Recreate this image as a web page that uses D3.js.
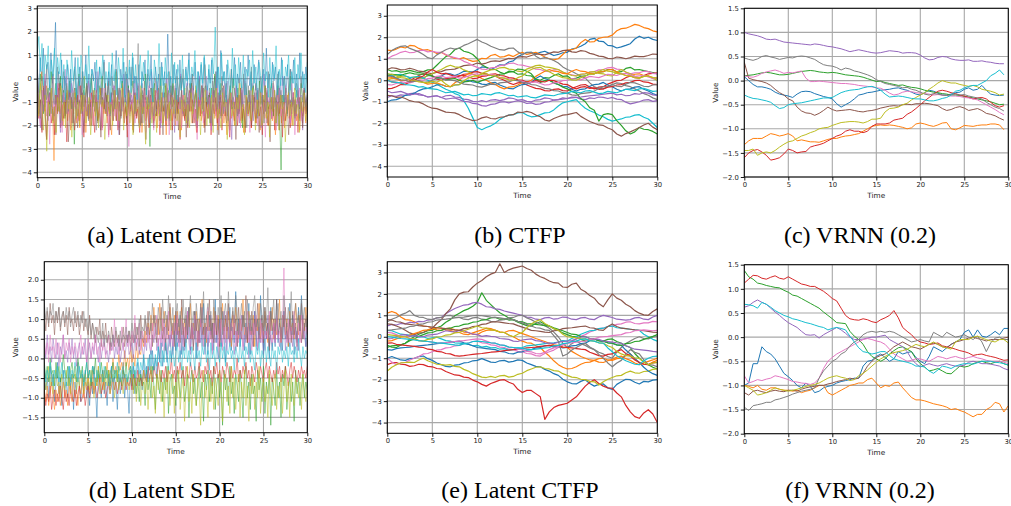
<!DOCTYPE html>
<html><head><meta charset="utf-8">
<script src="https://cdn.jsdelivr.net/npm/d3@7"></script>
<style>html,body{margin:0;padding:0;background:#fff;}svg{display:block;}</style>
</head><body>
<svg id="chart" width="1011" height="506"></svg>
<script>
// ---------- tick labels / categories ----------
const timeTicks = [0, 5, 10, 15, 20, 25, 30];
const intTicks = [-4, -3, -2, -1, 0, 1, 2, 3];
const vrnnTicks = [-2.0, -1.5, -1.0, -0.5, 0.0, 0.5, 1.0, 1.5];
const sdeTicks = [-1.5, -1.0, -0.5, 0.0, 0.5, 1.0, 1.5, 2.0];
const captions = ["(a) Latent ODE", "(b) CTFP", "(c) VRNN (0.2)", "(d) Latent SDE", "(e) Latent CTFP", "(f) VRNN (0.2)"];
const colors = ["#1f77b4", "#ff7f0e", "#2ca02c", "#d62728", "#9467bd", "#8c564b", "#e377c2", "#7f7f7f", "#bcbd22", "#17becf"];

// ---------- (a) Latent ODE: noisy samples over 0..30 ----------
const a_blue = [0.4,-0.6,0.9,-0.1,1.3,-0.9,0.2,0.7,-0.4,1.1,-0.2,0.6,2.4,-0.8,0.3,-0.5,0.8,-1.1,0.1,-0.3,0.6,-0.9,0.4,-0.6,0.0,0.9,-1.0,-0.2,0.5,-0.7,0.3,-0.4,1.0,-0.8,0.2,-1.2,0.4,-0.1,0.7,-0.6,-0.2,0.5,-0.9,0.1,0.8,-0.5,-1.1,0.3,-0.3,0.6,-0.7,0.0,1.2,-0.4,-0.9,0.4,-0.2,0.7,-1.0,0.2,-0.6,0.5,-0.3,0.9,-0.8,0.1,-0.5,0.6,-1.2,0.3,-0.1,0.8,-0.7,0.4,-0.4,1.0,-0.9,-0.2,0.5,-0.6,0.2,-1.0,0.7,-0.3,0.3,-0.8,1.9,-0.5,0.1,-0.9,0.6,-0.2,0.4,-1.1,0.8,-0.4,0.0,-0.7,0.5,-0.3,1.1,-0.8,0.2,-0.5,0.7,-1.0,0.3,-0.1,0.6,-0.6,0.9,-0.4,-1.2,0.4,-0.2,0.8,-0.7,0.1,-0.5,0.5,-0.9,1.2,-0.3,0.3,-0.8,0.6,-0.1,-1.0,0.4,-0.4,0.9,-0.6,0.2,-0.2,0.7,-1.1,0.0,0.5,-0.7,1.0,-0.3,0.3,-0.9,0.6,-0.5,0.1,0.8,-0.8,-0.2,0.4,-0.6,1.3,-0.4,0.2,-1.0,0.7,-0.1,0.5,-0.7,0.3,-0.9,0.9,-0.3,0.1,-0.6,0.6,-1.1,0.4,-0.2,0.8,-0.5,0.2,-0.8,1.1,-0.4,0.3,-0.7,0.5,-0.2];
const a_orange = [-0.2,-1.1,-0.5,0.3,-0.9,-1.4,-0.3,-0.8,-1.6,-0.6,-1.2,-3.5,-0.7,-1.0,-0.4,-1.5,-0.9,-2.0,-1.2,-0.7,-1.8,-1.1,-2.2,-0.9,-1.5,-0.6,-1.9,-1.3,-2.1,-1.0,-1.6,-0.8,-2.3,-1.2,-1.7,-0.9,-1.4,-2.0,-1.1,-0.7,-1.8,-1.3,-2.2,-1.0,-1.5,-0.6,-1.9,-1.2,-1.6,-2.4,-0.9,-1.3,-1.8,-1.0,-2.1,-1.4,-0.8,-1.7,-1.2,-2.0,-0.9,-1.5,-1.1,-2.2,-0.7,-1.6,-1.3,-1.9,-1.0,-2.3,-1.4,-0.8,-1.7,-1.1,-2.0,-1.3,-0.6,-1.8,-1.5,-2.1,-1.0,-1.4,-0.9,-1.9,-1.2,-2.4,-1.1,-1.6,-0.7,-1.8,-1.3,-2.0,-1.0,-1.5,-0.8,-2.2,-1.2,-1.7,-1.0,-2.0,-1.4,-0.7,-1.9,-1.1,-1.6,-2.3,-1.2,-0.9,-1.8,-1.4,-2.1,-0.8,-1.5,-1.1,-2.0,-1.3,-0.6,-1.7,-1.2,-2.2,-1.0,-1.6,-0.9,-1.9,-1.4,-2.4,-1.1,-0.8,-1.7,-1.3,-2.0,-1.0,-1.5,-0.7,-1.8,-1.2,-2.3,-1.4,-0.9,-1.6,-1.1,-2.1,-1.3,-0.8,-1.9,-1.0,-1.5,-2.2,-1.2,-0.7,-1.7,-1.4,-2.0,-1.1,-0.9,-1.8,-1.3,-2.4,-1.0,-1.6,-0.8,-1.9,-1.2,-2.1,-1.4,-0.7,-1.7,-1.1,-2.0,-1.3,-0.9,-1.8,-1.5,-2.2,-1.0,-1.6,-1.2,-1.9,-0.8];
const a_green = [-0.3,-1.2,0.2,-0.8,-1.5,-0.1,-0.9,-0.4,-1.6,0.3,-0.7,-1.1,-0.2,-1.4,-0.6,0.1,-1.0,-0.5,-1.7,-0.3,-0.9,-0.1,-1.3,-0.6,-2.8,-0.4,-1.1,0.2,-0.8,-1.5,-0.5,-1.0,-0.2,-1.6,-0.7,0.0,-1.2,-0.4,-0.9,-1.8,-0.3,-0.7,0.1,-1.3,-0.6,-1.0,-0.2,-1.5,-0.8,-0.4,-1.1,0.3,-0.9,-1.4,-0.5,-0.1,-1.2,-0.7,-1.7,-0.3,-1.0,-0.6,-0.1,-1.5,-0.8,-0.4,-1.1,-2.0,-0.5,-0.9,0.2,-1.3,-0.7,-2.9,-0.4,-1.0,-0.2,-1.6,-0.6,-1.2,0.0,-0.8,-1.4,-0.3,-1.0,-0.5,-1.8,-0.7,-0.2,-1.1,-0.6,-1.5,-0.4,0.1,-1.2,-0.9,-1.6,-0.3,-0.7,-1.0,-0.2,-1.4,-0.8,-0.5,-1.7,-0.1,-0.9,-1.3,-0.6,-0.3,-1.1,-0.7,-1.9,-0.4,-1.0,0.2,-1.2,-0.6,-1.5,-0.2,-0.9,-1.1,-0.5,-1.6,-0.8,-0.3,-1.3,0.0,-0.7,-1.0,-0.4,-1.4,-0.6,-2.1,-0.9,-0.2,-1.2,-0.5,-1.7,-0.8,-0.3,-1.0,-0.6,-1.5,-0.1,-1.1,-0.7,-1.9,-0.4,-0.9,-1.3,-0.5,-0.2,-1.6,-0.8,-1.0,-0.3,-1.4,-3.9,-0.7,-1.1,-0.4,-1.5,-0.6,0.1,-1.2,-0.9,-1.7,-0.5,-0.8,-1.3,-0.2,-1.0,-0.6,-1.4,-0.7];
const a_red = [-0.5,-1.7,-0.9,-2.3,-0.4,-1.4,-2.6,-1.0,-0.6,-1.9,-1.2,-2.4,-0.7,-1.5,-0.2,-2.1,-1.1,-1.7,-0.8,-2.7,-1.3,-0.5,-1.9,-1.0,-2.2,-1.4,-0.7,-1.8,-0.3,-1.2,-2.5,-0.9,-1.6,-1.1,-2.0,-0.6,-1.4,-2.3,-0.8,-1.7,-1.2,-0.4,-2.1,-1.0,-1.5,-0.7,-2.4,-1.3,-0.9,-1.8,-0.5,-1.2,-2.2,-1.0,-1.6,-0.3,-1.9,-1.1,-2.5,-0.8,-1.4,-1.0,-2.0,-0.6,-1.7,-1.2,-2.3,-0.9,-1.5,-0.4,-1.8,-1.1,-2.1,-0.7,-1.3,-1.9,-0.5,-1.6,-1.0,-2.4,-0.8,-1.4,-1.1,-2.0,-0.6,-1.7,-1.3,-2.2,-0.9,-0.4,-1.5,-1.0,-2.6,-1.2,-0.7,-1.8,-1.1,-2.1,-0.5,-1.4,-0.9,-1.9,-1.3,-2.3,-0.8,-1.6,-0.3,-1.2,-2.0,-1.0,-1.7,-0.6,-2.4,-1.1,-1.5,-0.8,-1.9,-1.3,-0.5,-2.2,-1.0,-1.6,-0.7,-1.4,-2.5,-0.9,-1.2,-1.8,-0.6,-2.0,-1.3,-0.4,-1.7,-1.1,-2.3,-0.8,-1.5,-1.0,-2.1,-0.7,-1.3,-1.9,-0.5,-1.6,-1.2,-2.4,-0.9,-1.4,-0.6,-2.0,-1.1,-1.7,-0.8,-2.2,-1.3,-0.4,-1.5,-1.0,-2.5,-0.7,-1.8,-1.2,-0.9,-2.1,-1.4,-0.6,-1.6,-1.1,-2.3,-0.8,-1.3,-1.9,-0.5,-1.5,-1.0];
const a_purple = [0.3,-1.0,-2.1,-0.5,-1.4,0.0,-0.9,-1.8,-0.6,-1.2,0.2,-1.6,-0.8,-0.3,-1.3,-2.3,-0.7,-1.0,0.4,-1.5,-0.5,-1.1,-0.2,-1.9,-0.8,-1.3,-0.4,0.1,-1.2,-0.9,-2.0,-0.6,-1.4,-0.1,-1.0,-1.7,-0.5,-0.9,0.3,-1.3,-0.7,-2.2,-0.4,-1.1,-0.8,-1.5,0.0,-1.0,-0.6,-1.8,-0.3,-1.2,-0.9,-2.4,-0.5,-1.4,0.2,-0.8,-1.1,-0.4,-1.6,-0.7,-1.0,0.1,-1.3,-0.6,-2.0,-0.9,-0.2,-1.5,-0.8,-1.1,-0.5,-1.9,0.3,-1.0,-0.7,-1.4,-0.3,-1.2,-2.1,-0.6,-0.9,-1.6,0.0,-1.1,-0.5,-1.3,-0.8,-2.3,-0.4,-1.0,-0.7,0.2,-1.5,-0.9,-1.2,-0.2,-1.8,-0.6,-1.0,-0.4,-1.4,-2.0,-0.7,0.1,-1.1,-0.5,-1.6,-0.9,-0.3,-1.3,-0.8,-2.2,-0.6,-1.0,0.3,-1.2,-0.7,-1.7,-0.4,-0.9,-1.4,-0.1,-1.1,-0.6,-2.6,-0.8,-1.3,-0.3,-1.0,-1.9,-0.5,-1.2,0.0,-0.9,-1.5,-0.7,-1.1,-0.2,-1.8,-0.6,-1.3,-0.4,-1.0,-2.1,-0.8,0.2,-1.4,-0.5,-1.1,-0.9,-1.7,-0.3,-1.2,-0.7,-2.0,-0.4,-1.0,0.1,-1.5,-0.8,-1.3,-0.6,-1.9,-0.2,-1.1,-0.9,-1.6,-0.5,-1.2,-0.7,-2.2,-0.4,-1.0,-0.8];
const a_brown = [-0.4,-1.5,-0.9,-2.2,-0.3,-1.3,-2.6,-0.8,-1.1,-0.5,-1.8,-1.2,-2.4,-0.7,-1.4,-0.2,-2.0,-1.0,-1.6,-0.6,-2.7,-1.3,-0.8,-1.9,-0.4,-1.2,-2.1,-0.9,-1.5,-0.6,-2.3,-1.1,-0.3,-1.7,-1.0,-2.0,-0.7,-1.4,-0.5,-1.9,-1.2,-2.5,-0.8,-1.3,-0.2,-1.6,-1.0,-2.2,-0.6,-1.4,-0.9,-1.8,-0.4,-2.4,-1.1,-0.7,-1.5,-1.2,-2.0,-0.5,-1.3,-0.9,-2.3,-0.8,-1.6,-0.3,-1.1,-1.9,-0.7,-1.4,-2.6,-1.0,-0.5,-1.7,-1.2,-2.1,-0.8,-1.3,-0.4,-1.8,-1.0,-2.4,-0.6,-1.5,-1.1,-2.0,-0.3,-1.2,-0.9,-1.7,-0.7,-2.2,-1.3,-0.5,-1.6,-1.0,-2.5,-0.8,-1.4,-0.2,-1.9,-1.1,-0.6,-2.1,-1.2,-0.9,-1.5,-0.4,-2.3,-1.0,-1.7,-0.7,-1.3,-2.0,-0.5,-1.4,-1.1,-2.4,-0.8,-1.6,-0.3,-1.2,-1.9,-0.9,-2.2,-0.6,-1.3,-1.0,-2.6,-0.7,-1.5,-0.4,-1.8,-1.2,-2.1,-0.9,-1.4,-0.5,-2.0,-1.1,-0.8,-1.7,-1.3,-2.3,-0.6,-1.0,-1.5,-0.3,-1.9,-1.2,-2.7,-0.8,-1.4,-0.5,-1.6,-1.0,-2.2,-0.7,-1.3,-1.8,-0.4,-1.1,-2.4,-0.9,-1.5,-0.6,-2.0,-1.2,-0.8,-1.7,-1.0,-2.1,-0.5,-1.4,-1.1];
const a_pink = [-0.2,-1.4,-2.0,-0.5,-1.1,0.2,-1.6,-0.7,-2.8,-0.4,-1.3,-0.9,-1.9,-0.2,-1.2,-1.0,-2.3,-0.6,-1.0,0.1,-1.5,-0.8,-2.1,-0.5,-1.2,-0.9,-1.8,-0.3,-1.1,-2.4,-0.6,-1.4,-0.8,-1.7,-0.2,-1.3,-2.0,-0.7,-1.0,0.3,-1.5,-0.9,-2.2,-0.4,-1.2,-1.0,-2.5,-0.6,-1.1,-0.3,-1.6,-0.8,-2.0,-0.5,-1.3,-0.7,-1.8,0.0,-1.0,-2.9,-0.6,-1.4,-0.4,-1.9,-1.1,-0.2,-2.1,-0.9,-1.2,-0.5,-2.3,-1.0,-0.3,-1.7,-0.8,-2.2,-1.3,-0.1,-1.5,-0.9,-1.9,-0.6,-1.1,-1.6,-0.4,-2.4,-1.0,-0.7,-1.4,-0.2,-2.0,-1.2,-0.8,-2.1,-0.5,-1.3,-1.0,-1.8,-0.6,-1.2,-0.3,-1.7,-0.9,-2.6,-0.4,-1.1,-0.7,-1.9,-1.3,0.1,-1.5,-0.8,-2.2,-0.5,-1.0,-1.6,-0.3,-2.0,-1.1,-0.7,-1.4,-0.2,-1.8,-0.9,-2.4,-0.6,-1.2,-1.0,-0.4,-1.7,-0.8,-2.1,-0.5,-1.3,-0.1,-1.6,-1.1,-2.3,-0.7,-0.9,-1.5,-0.3,-2.0,-1.2,-0.6,-1.8,-1.0,-2.5,-0.4,-1.1,-0.8,-1.7,-0.2,-1.4,-2.2,-0.9,-0.5,-1.6,-1.0,-2.0,-0.3,-1.2,-0.7,-1.9,-1.3,-0.6,-2.4,-0.9,-1.1,-0.4,-1.8,-1.0,-0.7,-1.5,-0.8];
const a_gray = [0.4,-1.0,-1.7,0.1,-0.6,-1.2,0.6,-0.8,-0.3,-1.5,0.2,-0.7,-1.1,0.5,-0.4,-1.9,-0.6,0.3,-1.0,-0.2,-1.4,0.0,-0.9,-1.3,0.4,-0.5,-1.6,-0.1,-0.8,0.3,-1.2,-0.6,-0.2,-1.8,-0.4,0.2,-1.0,-0.7,-2.2,0.0,-0.5,-1.1,-0.3,0.7,-1.4,-0.8,-0.1,-1.6,0.1,-0.6,-1.3,0.4,-0.9,-0.4,-1.7,-0.2,-0.7,0.3,-1.2,-0.5,-1.0,0.5,-0.8,-1.5,-0.3,1.5,-1.1,-0.6,-1.9,-0.1,-0.9,0.2,-1.2,-0.4,-0.8,-1.6,0.0,-0.7,-1.0,0.5,-1.4,-0.5,-0.2,-1.8,-0.6,0.3,-1.1,-0.9,-0.3,-1.5,0.1,-0.7,-1.3,-0.4,0.4,-1.0,-0.6,-2.0,-0.2,-0.8,0.2,-1.2,-0.5,-1.7,0.0,-0.9,-0.3,-1.4,0.6,-0.7,-1.1,-0.4,-1.9,-0.1,-0.8,0.3,-1.3,-0.6,-1.0,0.1,-1.5,-0.5,-0.2,-1.8,-0.7,0.4,-1.1,-0.4,-0.9,-1.6,0.0,-0.6,-1.2,0.2,-0.8,-2.1,-0.3,-1.0,0.5,-1.4,-0.7,-0.2,-1.7,-0.5,0.1,-1.1,-0.9,-0.4,-1.5,0.3,-0.8,-1.3,-0.1,-0.6,-1.9,0.2,-1.0,-0.5,-1.2,0.0,-0.7,-1.6,-0.3,0.4,-1.1,-0.8,-1.4,-0.2,-0.6,-1.8,0.1,-0.9,-0.4,-1.2,-0.6];
const a_olive = [-0.6,-1.6,-0.2,-1.3,-2.2,-0.7,-3.1,-1.0,-1.5,-0.4,-1.9,-1.2,-2.3,-0.8,-1.4,-0.3,-1.8,-1.0,-2.1,-0.5,-1.3,-0.9,-2.5,-1.1,-0.6,-1.7,-1.0,-2.0,-0.7,-1.4,0.1,-1.9,-1.2,-0.8,-2.4,-1.3,-0.5,-1.6,-1.0,-2.1,-0.4,-1.2,-0.9,-2.6,-1.4,-0.7,-1.5,-1.1,-2.0,-0.5,-1.3,-0.8,-1.8,-1.2,-0.2,-2.2,-1.0,-1.6,-0.6,-1.9,-1.1,-2.4,-0.7,-1.4,-0.9,-2.1,-0.3,-1.5,-1.2,-2.8,-0.8,-1.3,-1.0,-1.9,-0.4,-1.1,-2.3,-0.9,-1.6,-0.6,-2.0,-1.2,-0.2,-1.7,-1.0,-2.2,-0.8,-1.5,-0.5,-1.8,-1.3,-2.5,-0.9,-1.4,-0.4,-1.9,-1.1,-2.1,-0.6,-1.5,-1.0,-0.3,-1.8,-1.2,-2.4,-0.8,-1.4,-0.5,-2.0,-1.1,-1.6,-0.7,-2.3,-1.0,-0.4,-1.7,-1.3,-2.1,-0.6,-1.2,-0.9,-2.6,-1.4,-0.5,-1.6,-1.0,-2.0,-0.8,-1.3,-0.2,-1.9,-1.1,-2.4,-0.7,-1.5,-1.0,-1.8,-0.4,-1.2,-2.2,-0.9,-1.6,-0.6,-2.0,-1.3,-0.3,-1.7,-1.0,-2.5,-0.8,-1.4,-0.5,-1.9,-1.1,-2.2,-0.7,-1.3,-0.9,-2.7,-1.2,-0.6,-1.6,-1.0,-2.0,-0.4,-1.5,-1.1,-2.3,-0.8,-1.4,-0.6,-1.8,-1.0];
const a_cyan = [1.1,1.8,0.3,1.5,-0.3,1.0,0.4,1.4,-0.5,0.8,0.1,1.3,-0.7,0.9,0.2,1.1,-0.4,0.6,-0.9,0.8,0.3,-0.6,1.2,-0.1,0.5,-0.8,0.9,-0.3,1.0,0.2,-0.7,0.6,-0.2,1.4,-0.6,0.4,0.1,-0.5,0.8,-0.9,0.5,0.0,1.0,-0.4,0.3,-0.3,0.7,-1.0,1.1,-0.1,0.4,-0.7,0.9,0.1,-0.4,1.3,-0.8,0.5,0.0,0.8,-0.6,1.1,-0.2,0.6,-0.9,0.3,1.0,-0.4,0.7,0.1,-0.7,1.2,-0.1,0.4,-1.0,0.8,0.2,-0.5,1.5,-0.3,0.5,-0.8,0.9,0.0,0.3,-0.6,1.1,-0.2,0.7,-0.9,0.6,0.1,-0.5,1.0,-0.7,0.4,-0.1,0.8,-0.4,0.5,0.1,1.2,-0.6,0.3,-0.9,0.7,-0.2,1.0,0.0,-0.5,0.6,-0.8,0.9,0.2,2.2,-0.4,0.5,-0.7,1.1,-0.1,0.3,-1.0,0.8,0.2,-0.6,1.3,-0.3,0.6,-0.8,0.9,0.0,-0.4,1.0,-0.7,0.4,0.1,0.8,-0.5,1.2,-0.2,0.5,-0.9,0.7,0.2,-0.6,1.1,-0.1,0.3,-0.8,0.9,-0.4,0.6,0.0,1.4,-0.7,0.4,-0.3,0.8,-1.0,0.5,0.1,1.0,-0.5,0.3,-0.2,0.9,-0.8,0.6,0.0,1.1,-0.4,0.2,-0.6,0.7];

// ---------- (b) CTFP (every 0.5 time units) ----------
const b_blue1 = [0.2,0.22,0.1,-0.02,0.0,0.08,0.0,0.12,0.1,0.22,0.2,0.1,0.2,0.32,0.3,0.22,0.3,0.42,0.4,0.38,0.5,0.62,0.6,0.5,0.6,0.72,0.7,0.85,0.9,1.1,1.2,1.3,1.3,1.22,1.3,1.35,1.25,1.15,1.2,1.28,1.3,1.45,1.5,1.58,1.7,1.9,1.95,1.82,1.8,1.62,1.6,1.5,1.55,1.62,1.7,1.92,2.05,1.95,2.0,1.9,1.85];
const b_orange1 = [1.4,1.38,1.45,1.55,1.5,1.62,1.6,1.48,1.4,1.42,1.35,1.25,1.3,1.18,1.1,1.02,1.0,1.05,0.95,0.88,0.9,1.02,1.0,1.15,1.2,1.08,1.1,1.18,1.1,1.22,1.3,1.2,1.25,1.3,1.2,1.08,1.0,0.95,1.0,1.2,1.4,1.42,1.5,1.75,1.9,1.78,1.8,1.95,2.0,2.02,2.1,2.3,2.4,2.42,2.5,2.6,2.55,2.45,2.4,2.3,2.25];
const b_green1 = [0.5,0.42,0.45,0.38,0.4,0.46,0.4,0.35,0.4,0.48,0.5,0.7,0.9,1.1,1.2,1.42,1.5,1.35,1.3,1.2,1.0,0.72,0.6,0.5,0.5,0.38,0.3,0.42,0.4,0.28,0.3,0.22,0.2,0.05,0.0,0.12,0.1,0.22,0.3,0.18,0.2,0.05,0.1,0.18,0.2,0.3,0.3,0.38,0.4,0.5,0.5,0.38,0.4,0.55,0.6,0.48,0.5,0.45,0.4,0.36,0.3];
const b_red1 = [-0.4,-0.38,-0.3,-0.2,-0.2,-0.02,0.1,0.22,0.3,0.28,0.2,0.05,0.0,0.08,0.1,0.12,0.2,0.28,0.3,0.38,0.4,0.32,0.3,0.22,0.2,0.08,0.0,-0.12,-0.2,-0.12,-0.1,-0.22,-0.3,-0.38,-0.4,-0.48,-0.5,-0.42,-0.4,-0.48,-0.5,-0.38,-0.3,-0.22,-0.2,-0.32,-0.4,-0.32,-0.3,-0.18,-0.1,-0.02,0.0,0.12,0.2,0.12,0.1,0.22,0.3,0.32,0.35];
const b_purple1 = [-0.8,-0.72,-0.75,-0.68,-0.7,-0.62,-0.6,-0.68,-0.7,-0.78,-0.75,-0.72,-0.8,-0.72,-0.7,-0.78,-0.8,-0.88,-0.9,-0.98,-1.0,-0.95,-1.0,-0.92,-0.9,-0.95,-0.9,-0.82,-0.85,-0.92,-0.9,-0.98,-1.0,-0.92,-0.9,-0.82,-0.85,-0.92,-0.9,-0.82,-0.85,-0.78,-0.8,-0.88,-0.9,-0.82,-0.85,-0.78,-0.8,-0.85,-0.8,-0.88,-0.9,-1.02,-1.1,-1.05,-1.0,-0.92,-0.9,-0.98,-0.95];
const b_brown1 = [0.5,0.58,0.55,0.48,0.5,0.56,0.5,0.42,0.4,0.35,0.3,0.38,0.4,0.48,0.5,0.52,0.6,0.68,0.7,0.72,0.8,0.75,0.8,0.88,0.9,0.88,0.95,1.02,1.0,1.08,1.1,1.08,1.15,1.22,1.2,1.18,1.25,1.32,1.3,1.38,1.4,1.32,1.3,1.38,1.35,1.25,1.2,1.12,1.1,1.02,1.0,1.08,1.05,1.0,1.05,1.12,1.1,1.1,1.15,1.22,1.2];
const b_pink1 = [1.0,1.12,1.2,1.3,1.35,1.28,1.3,1.38,1.4,1.32,1.35,1.3,1.3,1.2,1.1,1.05,1.0,0.88,0.8,0.68,0.6,0.52,0.5,0.58,0.6,0.68,0.7,0.78,0.8,0.72,0.7,0.65,0.6,0.52,0.5,0.42,0.4,0.48,0.5,0.38,0.3,0.25,0.2,0.28,0.3,0.38,0.4,0.48,0.5,0.58,0.6,0.52,0.5,0.38,0.3,0.35,0.35,0.42,0.4,0.32,0.3];
const b_gray1 = [1.2,1.38,1.5,1.58,1.6,1.48,1.4,1.32,1.2,1.05,1.0,1.18,1.3,1.42,1.5,1.45,1.5,1.62,1.7,1.8,1.9,1.78,1.7,1.58,1.5,1.42,1.4,1.48,1.5,1.32,1.2,1.28,1.3,1.12,1.0,1.05,1.0,0.92,0.8,0.62,0.5,0.42,0.3,0.2,0.1,-0.12,-0.3,-0.38,-0.4,-0.3,-0.2,-0.12,-0.15,-0.25,-0.3,-0.4,-0.5,-0.62,-0.7,-0.82,-0.9];
const b_olive1 = [0.0,0.08,0.1,0.18,0.2,0.12,0.15,0.1,0.1,0.22,0.3,0.42,0.5,0.62,0.7,0.62,0.6,0.48,0.4,0.28,0.2,0.32,0.4,0.48,0.5,0.58,0.6,0.52,0.5,0.42,0.4,0.52,0.6,0.68,0.7,0.62,0.6,0.55,0.5,0.38,0.3,0.22,0.2,0.28,0.3,0.38,0.4,0.32,0.3,0.22,0.2,0.38,0.5,0.38,0.3,0.18,0.1,0.18,0.2,0.08,0.0];
const b_cyan1 = [0.3,0.22,0.25,0.28,0.2,0.12,0.15,0.18,0.1,0.0,-0.1,-0.18,-0.3,-0.42,-0.5,-0.62,-0.7,-0.95,-1.3,-1.75,-2.2,-2.3,-2.2,-2.12,-2.0,-1.82,-1.7,-1.62,-1.6,-1.52,-1.5,-1.62,-1.7,-1.68,-1.6,-1.52,-1.5,-1.38,-1.2,-1.05,-1.0,-0.95,-0.9,-1.12,-1.3,-1.42,-1.5,-1.62,-1.7,-1.82,-1.9,-1.85,-1.8,-1.72,-1.7,-1.62,-1.6,-1.72,-1.8,-2.0,-2.2];
const b_blue2 = [-1.0,-0.92,-0.9,-0.82,-0.7,-0.68,-0.6,-0.48,-0.4,-0.38,-0.3,-0.22,-0.2,-0.28,-0.3,-0.22,-0.2,-0.08,0.0,-0.08,-0.1,-0.18,-0.2,-0.12,-0.1,-0.22,-0.3,-0.38,-0.4,-0.28,-0.2,-0.18,-0.1,0.08,0.2,0.08,0.0,-0.12,-0.2,-0.28,-0.3,-0.42,-0.5,-0.42,-0.4,-0.28,-0.2,-0.18,-0.1,-0.22,-0.3,-0.42,-0.5,-0.42,-0.4,-0.32,-0.3,-0.42,-0.5,-0.62,-0.7];
const b_orange2 = [0.1,0.12,0.05,-0.02,0.0,-0.08,-0.05,-0.02,-0.1,-0.18,-0.15,-0.12,-0.2,-0.28,-0.3,-0.12,0.0,0.18,0.3,0.28,0.2,0.08,0.0,-0.12,-0.2,-0.32,-0.4,-0.32,-0.3,-0.22,-0.1,-0.08,0.0,0.18,0.3,0.42,0.5,0.42,0.4,0.32,0.3,0.42,0.5,0.42,0.4,0.32,0.3,0.38,0.4,0.48,0.5,0.38,0.3,0.22,0.2,0.28,0.3,0.22,0.2,0.12,0.1];
const b_green2 = [0.2,0.28,0.25,0.22,0.3,0.35,0.3,0.28,0.3,0.25,0.2,0.12,0.1,0.02,0.05,0.08,0.0,-0.08,-0.05,0.0,-0.1,-0.02,0.05,0.12,0.2,0.28,0.3,0.38,0.4,0.52,0.5,0.42,0.3,0.05,-0.1,-0.02,0.0,-0.12,-0.2,-0.32,-0.4,-0.52,-0.6,-0.85,-1.0,-1.28,-1.4,-1.9,-1.6,-1.55,-1.6,-1.88,-2.1,-2.35,-2.5,-2.4,-2.2,-2.28,-2.3,-2.38,-2.5];
const b_red2 = [0.0,-0.08,-0.1,-0.12,-0.2,-0.08,0.0,0.12,0.2,0.38,0.5,0.38,0.3,0.32,0.25,0.18,0.2,0.22,0.15,0.08,0.1,0.18,0.2,0.28,0.3,0.22,0.2,0.12,0.1,0.02,0.0,-0.08,-0.1,-0.02,-0.05,-0.08,0.0,-0.02,-0.1,-0.18,-0.2,-0.32,-0.4,-0.32,-0.3,-0.38,-0.35,-0.42,-0.4,-0.32,-0.3,-0.22,-0.2,-0.12,-0.1,-0.02,0.0,-0.08,-0.1,-0.18,-0.2];
const b_purple2 = [-0.5,-0.58,-0.55,-0.52,-0.6,-0.68,-0.65,-0.62,-0.7,-0.78,-0.75,-0.72,-0.8,-0.88,-0.85,-0.82,-0.9,-0.98,-1.0,-1.08,-1.1,-1.18,-1.2,-1.12,-1.1,-1.02,-1.0,-1.05,-1.0,-0.95,-1.0,-1.08,-1.05,-1.12,-1.1,-1.02,-1.0,-0.92,-0.9,-0.88,-0.85,-0.82,-0.8,-0.78,-0.75,-0.72,-0.7,-0.68,-0.65,-0.62,-0.6,-0.68,-0.65,-0.72,-0.7,-0.62,-0.65,-0.58,-0.6,-0.68,-0.7];
const b_brown2 = [-0.7,-0.72,-0.8,-0.78,-0.85,-0.95,-1.0,-1.02,-1.1,-1.22,-1.3,-1.32,-1.4,-1.48,-1.5,-1.52,-1.6,-1.72,-1.8,-1.88,-1.85,-1.75,-1.7,-1.78,-1.8,-1.72,-1.7,-1.62,-1.6,-1.48,-1.5,-1.45,-1.5,-1.62,-1.7,-1.85,-1.9,-1.78,-1.7,-1.62,-1.6,-1.55,-1.5,-1.68,-1.8,-1.92,-2.0,-2.08,-2.1,-2.22,-2.3,-2.5,-2.6,-2.48,-2.4,-2.3,-2.2,-2.08,-2.0,-2.18,-2.3];
const b_pink2 = [-0.2,-0.22,-0.15,-0.08,-0.1,-0.12,-0.05,0.02,0.0,0.08,0.1,0.18,0.2,0.12,0.15,0.18,0.1,0.12,0.2,0.28,0.3,0.22,0.25,0.28,0.2,0.12,0.1,0.08,0.0,-0.02,-0.05,-0.12,-0.1,-0.08,-0.15,-0.22,-0.2,-0.12,-0.1,-0.02,0.0,0.08,0.05,0.02,0.1,0.18,0.15,0.12,0.2,0.28,0.25,0.22,0.3,0.32,0.25,0.18,0.2,0.22,0.15,0.08,0.1];
const b_gray2 = [0.2,0.18,0.1,0.02,0.0,-0.08,-0.05,-0.02,-0.1,-0.08,0.0,0.08,0.1,0.02,0.0,-0.02,-0.1,-0.18,-0.2,-0.22,-0.3,-0.32,-0.25,-0.18,-0.2,-0.12,-0.1,-0.08,0.0,-0.02,-0.1,-0.12,-0.2,-0.22,-0.3,-0.38,-0.4,-0.48,-0.5,-0.58,-0.6,-0.68,-0.7,-0.62,-0.6,-0.58,-0.5,-0.38,-0.3,-0.28,-0.2,-0.28,-0.3,-0.18,-0.1,-0.12,-0.2,-0.28,-0.3,-0.22,-0.2];
const b_olive2 = [0.3,0.28,0.2,0.12,0.1,0.02,0.0,-0.08,-0.1,-0.12,-0.05,-0.08,0.0,-0.18,-0.3,-0.22,-0.2,-0.02,0.1,0.18,0.2,0.28,0.3,0.22,0.2,0.12,0.1,0.02,0.0,0.12,0.2,0.38,0.5,0.58,0.6,0.48,0.4,0.28,0.2,0.12,0.1,0.02,0.0,0.12,0.2,0.28,0.3,0.42,0.5,0.42,0.4,0.32,0.3,0.22,0.2,0.12,0.1,0.18,0.2,0.12,0.1];
const b_cyan2 = [0.0,-0.08,-0.1,-0.12,-0.2,-0.22,-0.25,-0.32,-0.3,-0.38,-0.4,-0.42,-0.5,-0.58,-0.55,-0.52,-0.6,-0.68,-0.65,-0.72,-0.7,-0.62,-0.65,-0.68,-0.6,-0.58,-0.65,-0.72,-0.7,-0.78,-0.75,-0.72,-0.8,-0.82,-0.75,-0.68,-0.7,-0.72,-0.65,-0.62,-0.6,-0.52,-0.55,-0.58,-0.5,-0.48,-0.55,-0.62,-0.6,-0.52,-0.55,-0.58,-0.5,-0.42,-0.45,-0.48,-0.4,-0.38,-0.45,-0.52,-0.5];

// ---------- (c) VRNN (0.2), upper (every 0.5 up to 29.5) ----------
const c_blue = [0.08,0.0,-0.08,-0.13,-0.13,-0.15,-0.18,-0.24,-0.28,-0.3,-0.32,-0.35,-0.28,-0.23,-0.22,-0.23,-0.27,-0.3,-0.33,-0.35,-0.38,-0.48,-0.55,-0.5,-0.45,-0.38,-0.3,-0.28,-0.25,-0.24,-0.22,-0.2,-0.19,-0.18,-0.16,-0.15,-0.18,-0.2,-0.24,-0.28,-0.3,-0.25,-0.2,-0.22,-0.26,-0.3,-0.3,-0.28,-0.25,-0.24,-0.18,-0.15,-0.2,-0.18,-0.1,-0.2,-0.28,-0.3,-0.31,-0.3];
const c_orange = [-1.33,-1.25,-1.2,-1.2,-1.2,-1.15,-1.1,-1.12,-1.15,-1.13,-1.1,-1.15,-1.25,-1.23,-1.25,-1.27,-1.27,-1.28,-1.25,-1.22,-1.2,-1.2,-1.17,-1.15,-1.14,-1.12,-1.1,-1.05,-1.0,-0.95,-0.93,-0.92,-0.93,-0.92,-0.93,-0.95,-0.97,-1.0,-0.98,-0.9,-0.88,-0.9,-0.93,-0.95,-0.92,-0.88,-0.87,-1.0,-1.02,-0.98,-0.93,-0.94,-0.95,-0.93,-0.92,-0.92,-0.9,-0.9,-0.92,-1.02];
const c_green = [0.1,0.11,0.12,0.14,0.16,0.17,0.16,0.14,0.12,0.12,0.13,0.15,0.17,0.19,0.2,0.21,0.2,0.18,0.17,0.16,0.17,0.16,0.14,0.12,0.11,0.1,0.09,0.07,0.04,0.01,-0.02,-0.01,-0.04,-0.06,-0.08,-0.1,-0.09,-0.12,-0.14,-0.15,-0.17,-0.2,-0.22,-0.24,-0.25,-0.27,-0.28,-0.3,-0.3,-0.31,-0.33,-0.34,-0.36,-0.38,-0.4,-0.42,-0.44,-0.47,-0.5,-0.49];
const c_red = [-1.6,-1.5,-1.45,-1.43,-1.48,-1.55,-1.65,-1.63,-1.6,-1.52,-1.42,-1.45,-1.5,-1.48,-1.47,-1.38,-1.35,-1.33,-1.3,-1.25,-1.2,-1.15,-1.12,-1.05,-1.02,-1.05,-1.05,-1.08,-1.05,-0.95,-0.9,-0.9,-0.9,-0.88,-0.82,-0.8,-0.78,-0.7,-0.65,-0.58,-0.5,-0.42,-0.35,-0.28,-0.22,-0.2,-0.22,-0.25,-0.27,-0.3,-0.32,-0.35,-0.38,-0.36,-0.35,-0.38,-0.45,-0.52,-0.55,-0.52];
const c_purple = [1.0,0.97,0.95,0.93,0.9,0.86,0.85,0.86,0.83,0.8,0.79,0.78,0.77,0.76,0.75,0.74,0.76,0.75,0.73,0.71,0.7,0.68,0.66,0.63,0.6,0.62,0.64,0.62,0.6,0.58,0.57,0.58,0.6,0.62,0.61,0.6,0.57,0.58,0.58,0.57,0.53,0.47,0.43,0.44,0.48,0.5,0.49,0.45,0.43,0.42,0.42,0.43,0.4,0.4,0.41,0.39,0.38,0.36,0.35,0.35];
const c_brown = [0.38,0.05,0.02,0.0,-0.02,-0.05,-0.1,-0.18,-0.25,-0.3,-0.38,-0.42,-0.55,-0.63,-0.67,-0.68,-0.72,-0.68,-0.62,-0.55,-0.6,-0.63,-0.62,-0.61,-0.6,-0.62,-0.64,-0.65,-0.63,-0.62,-0.6,-0.57,-0.55,-0.53,-0.52,-0.53,-0.5,-0.49,-0.5,-0.48,-0.48,-0.47,-0.48,-0.5,-0.52,-0.58,-0.62,-0.6,-0.56,-0.54,-0.57,-0.62,-0.6,-0.58,-0.62,-0.68,-0.7,-0.73,-0.78,-0.82];
const c_pink = [0.1,0.08,0.07,0.1,0.15,0.18,0.2,0.22,0.19,0.15,0.17,0.16,0.18,0.2,0.05,-0.02,-0.02,-0.01,-0.02,-0.03,-0.04,-0.05,-0.06,-0.06,-0.07,-0.08,-0.1,-0.11,-0.12,-0.13,-0.15,-0.16,-0.2,-0.26,-0.3,-0.28,-0.24,-0.22,-0.23,-0.25,-0.26,-0.27,-0.28,-0.3,-0.29,-0.3,-0.31,-0.32,-0.32,-0.33,-0.35,-0.36,-0.38,-0.4,-0.45,-0.5,-0.55,-0.6,-0.66,-0.71];
const c_gray = [0.47,0.44,0.42,0.45,0.5,0.52,0.49,0.47,0.44,0.46,0.48,0.47,0.5,0.51,0.5,0.47,0.44,0.38,0.33,0.31,0.3,0.27,0.22,0.26,0.24,0.2,0.18,0.15,0.12,0.08,0.02,-0.02,-0.06,-0.08,-0.1,-0.12,-0.15,-0.14,-0.18,-0.2,-0.24,-0.28,-0.3,-0.27,-0.28,-0.3,-0.31,-0.29,-0.28,-0.3,-0.29,-0.32,-0.34,-0.36,-0.38,-0.45,-0.5,-0.55,-0.58,-0.63];
const c_olive = [-1.45,-1.45,-1.42,-1.55,-1.5,-1.48,-1.5,-1.45,-1.38,-1.32,-1.27,-1.25,-1.2,-1.15,-1.12,-1.08,-1.05,-1.0,-0.98,-0.97,-0.93,-0.9,-0.87,-0.86,-0.85,-0.85,-0.86,-0.88,-0.85,-0.8,-0.8,-0.78,-0.65,-0.58,-0.57,-0.55,-0.5,-0.47,-0.4,-0.35,-0.3,-0.25,-0.18,-0.12,-0.05,0.0,-0.03,-0.05,-0.05,-0.08,-0.1,-0.12,-0.1,-0.13,-0.18,-0.2,-0.22,-0.25,-0.3,-0.28];
const c_cyan = [-0.3,-0.34,-0.37,-0.38,-0.4,-0.42,-0.45,-0.52,-0.58,-0.56,-0.5,-0.48,-0.47,-0.46,-0.44,-0.42,-0.4,-0.38,-0.36,-0.36,-0.35,-0.3,-0.25,-0.22,-0.2,-0.19,-0.18,-0.15,-0.13,-0.12,-0.15,-0.2,-0.28,-0.34,-0.33,-0.32,-0.33,-0.35,-0.37,-0.38,-0.38,-0.4,-0.42,-0.42,-0.4,-0.37,-0.35,-0.3,-0.22,-0.2,-0.15,-0.12,-0.1,-0.1,-0.05,0.0,0.1,0.15,0.22,0.12];

// ---------- (d) Latent SDE: noisy samples over 0..30 ----------
const d_blue = [-0.3,-0.8,-0.5,-1.0,-0.2,-0.7,-0.4,-1.1,-0.6,-0.1,-0.9,-0.5,-1.2,-0.3,-0.8,-0.6,-1.0,-0.2,-0.7,-0.4,-1.3,-0.6,-0.9,-0.1,-0.7,-1.1,-0.4,-0.8,-0.3,-1.0,-0.6,-1.2,-0.5,-0.9,-0.2,-0.8,-1.5,-0.4,-0.7,-1.0,-0.3,-0.9,-0.6,-1.2,-0.4,-0.8,-0.2,-1.1,-0.5,-0.7,-1.3,-0.4,-0.9,-0.6,-0.1,-1.0,-0.5,-0.8,-1.4,-0.3,-0.7,-0.2,-0.9,-0.4,-0.1,-0.7,-0.3,-0.8,0.0,-0.5,-0.2,-0.6,0.1,-0.4,0.2,-0.3,0.0,-0.5,0.3,-0.1,0.4,-0.2,0.2,0.5,-0.1,0.3,0.6,0.0,0.4,0.7,0.2,0.9,0.4,1.1,0.1,0.7,0.3,1.0,0.5,1.3,0.2,0.8,0.6,1.2,0.0,0.7,0.4,1.0,0.3,1.4,0.5,0.8,0.1,1.1,0.6,0.9,0.2,1.5,0.4,0.7,1.0,0.3,1.2,0.6,-0.1,0.9,0.5,1.3,0.2,0.8,0.4,1.7,0.6,1.0,0.3,0.7,1.1,0.2,0.9,0.5,1.4,0.1,0.8,0.6,1.2,0.3,1.0,0.4,1.6,0.7,0.2,1.1,0.5,0.9,0.0,1.3,0.6,0.8,0.3,1.5,0.4,1.0,0.7,0.2,1.2,0.5,0.9,0.3,1.4,0.6,1.1,0.1,0.8,0.4,1.3,0.7,1.6,0.5,0.9,0.3,1.1];
const d_orange = [-0.8,-1.1,-0.7,-1.2,-0.9,-0.6,-1.0,-1.3,-0.8,-1.1,-0.7,-1.2,-0.9,-0.6,-1.0,-0.8,-1.2,-0.7,-0.9,-1.1,-0.6,-1.0,-0.8,-1.2,-0.7,-0.9,-0.5,-1.0,-0.6,-0.8,-0.4,-0.9,-0.6,-0.3,-0.8,-0.5,-0.7,-0.2,-0.6,-0.4,-0.8,-0.3,-0.5,-0.1,-0.6,-0.3,-0.5,0.0,-0.4,-0.2,-0.5,0.1,-0.3,-0.1,-0.4,0.2,-0.2,0.0,-0.3,0.3,-0.1,0.1,-0.2,0.4,0.0,0.2,0.1,0.5,0.3,0.7,0.4,0.9,0.6,1.1,0.7,1.3,0.8,1.0,0.6,1.4,0.9,0.7,1.2,0.8,1.0,0.5,1.3,0.9,0.6,1.1,0.7,1.2,0.5,0.9,1.3,0.6,1.0,0.4,1.1,0.8,1.4,0.5,0.9,0.7,1.2,0.3,1.0,0.8,1.5,0.6,0.9,0.4,1.2,0.7,1.0,0.5,1.3,0.8,0.6,1.1,0.4,0.9,1.4,0.7,1.0,0.5,1.2,0.8,0.3,1.1,0.6,1.3,0.9,0.5,1.0,0.7,1.5,0.6,0.8,0.4,1.2,0.9,0.6,1.1,0.3,1.0,0.7,1.4,0.5,0.9,0.6,1.2,0.8,0.4,1.1,0.7,1.3,0.5,1.0,0.6,0.9,1.5,0.4,0.8,1.1,0.6,1.0,0.3,1.2,0.7,0.9,0.5,1.4,0.8,0.6,1.1,0.4,1.0,0.7,1.3,0.8];
const d_green = [-0.1,-0.5,-0.2,-0.6,0.0,-0.4,-0.3,-0.7,-0.1,-0.5,-0.2,-0.6,-0.4,0.1,-0.3,-0.5,-0.2,-0.7,-0.3,-0.1,-0.5,-0.4,-0.6,0.0,-0.3,-0.5,-0.2,-0.6,-0.4,-0.1,-0.5,-0.3,-0.7,-0.2,-0.4,0.0,-0.6,-0.3,-0.5,-0.1,-0.4,-0.6,-0.2,-0.5,-0.3,-0.7,-0.4,-0.1,-0.5,-0.3,-0.6,-0.2,-0.4,-0.7,-0.3,-0.5,-0.1,-0.6,-0.4,-0.2,-0.5,-0.8,-0.3,-0.9,-0.5,-1.1,-0.4,-0.7,-0.6,-1.2,-0.3,-0.8,-0.5,-1.0,-0.2,-0.7,-1.3,-0.4,-0.6,-0.9,-0.3,-1.1,-0.5,-0.8,-0.2,-1.4,-0.6,-0.4,-0.9,-0.7,-1.2,-0.3,-0.6,-1.0,-0.5,-0.2,-1.1,-0.8,-0.4,-1.5,-0.6,-0.3,-0.9,-0.5,-1.2,-0.7,-0.2,-1.0,-0.6,-1.6,-0.4,-0.8,-0.3,-1.1,-0.5,-0.9,-0.2,-1.3,-0.7,-0.4,-1.0,-0.6,-1.7,-0.3,-0.8,-0.5,-1.2,-0.2,-0.9,-0.6,-1.4,-0.4,-0.7,-1.1,-0.3,-0.8,-1.5,-0.5,-0.2,-1.0,-0.6,-1.3,-0.4,-0.9,-0.7,-1.6,-0.3,-0.8,-0.5,-1.1,-0.2,-1.4,-0.6,-0.9,-0.4,-1.7,-0.5,-0.8,-1.2,-0.3,-1.0,-0.6,-1.5,-0.4,-0.7,-0.2,-1.3,-0.8,-0.5,-1.1,-0.6,-1.6,-0.3,-0.9,-0.5,-1.2,-0.7,-0.4,-1.0,-0.6,-0.8];
const d_red = [-0.8,-1.2,-0.9,-1.1,-0.7,-1.3,-1.0,-0.8,-1.2,-0.9,-1.1,-0.7,-1.0,-1.3,-0.8,-1.1,-0.9,-1.2,-0.7,-1.0,-1.1,-0.8,-1.2,-0.9,-0.7,-1.1,-1.0,-0.8,-1.2,-0.9,-0.7,-1.0,-0.8,-0.6,-0.9,-0.7,-1.0,-0.8,-0.5,-0.9,-0.7,-0.6,-1.0,-0.8,-0.6,-0.9,-0.7,-0.5,-0.8,-0.6,-0.9,-0.7,-0.5,-0.8,-0.6,-0.4,-0.8,-0.6,-0.7,-0.5,-0.8,-0.4,-0.6,-0.7,-0.3,-0.6,-0.5,-0.7,-0.3,-0.5,-0.6,-0.2,-0.5,-0.3,-0.6,-0.2,-0.4,-0.5,-0.1,-0.4,-0.6,-0.3,-0.5,-0.2,-0.6,-0.3,-0.4,0.0,-0.5,-0.3,-0.6,-0.2,-0.4,-0.1,-0.5,-0.3,-0.7,-0.2,-0.4,-0.5,-0.1,-0.3,-0.6,-0.2,-0.5,-0.4,-0.1,-0.5,-0.3,-0.6,-0.2,-0.4,0.0,-0.5,-0.3,-0.7,-0.2,-0.4,-0.1,-0.5,-0.3,-0.6,-0.2,-0.4,-0.5,-0.1,-0.3,-0.6,-0.2,-0.5,-0.3,-0.4,0.0,-0.6,-0.3,-0.5,-0.2,-0.4,-0.1,-0.5,-0.3,-0.7,-0.2,-0.4,-0.6,-0.1,-0.3,-0.5,-0.2,-0.4,-0.6,-0.3,-0.1,-0.5,-0.2,-0.4,-0.6,-0.3,-0.5,-0.1,-0.4,-0.2,-0.6,-0.3,-0.5,-0.2,-0.4,-0.7,-0.3,-0.1,-0.5,-0.2,-0.4,-0.6,-0.3,-0.5,-0.2,-0.4,-0.3,-0.5,-0.2];
const d_purple = [0.4,0.0,0.6,0.1,0.3,-0.1,0.5,0.2,0.0,0.4,-0.2,0.3,0.1,0.6,0.0,0.2,-0.1,0.4,0.1,0.5,0.0,0.3,-0.2,0.2,0.4,0.0,0.3,0.1,0.5,-0.1,0.2,0.4,0.0,0.3,0.1,0.6,0.2,-0.1,0.4,0.0,0.3,0.5,0.1,0.2,-0.1,0.4,0.2,0.6,0.0,0.3,0.1,0.5,-0.1,0.2,0.4,0.0,0.3,0.6,0.1,0.2,0.4,0.0,0.6,0.2,0.5,0.1,0.7,0.3,0.0,0.5,0.2,0.8,0.3,0.1,0.6,0.4,0.9,0.2,0.5,0.0,0.7,0.3,1.0,0.4,0.1,0.6,0.3,0.8,0.2,0.5,1.1,0.3,0.7,0.0,0.6,0.9,0.2,0.5,1.2,0.4,0.1,0.8,0.3,0.6,1.0,0.2,0.7,0.4,1.3,0.5,0.1,0.8,0.3,0.6,1.1,0.2,0.9,0.4,0.7,0.0,1.0,0.5,0.3,1.2,0.6,0.2,0.8,0.4,1.0,0.5,0.1,0.7,0.3,0.9,0.5,1.1,0.2,0.6,0.4,0.8,0.0,1.0,0.5,0.3,1.2,0.6,0.2,0.8,0.4,0.9,0.1,0.7,0.5,1.1,0.3,0.6,0.2,0.9,0.4,1.0,0.6,0.3,0.8,0.5,1.2,0.2,0.7,0.4,0.9,0.6,0.3,1.0,0.5,0.7,0.2,0.8,0.4,1.1,0.6,0.3,0.5];
const d_brown = [1.3,0.7,1.2,0.8,1.4,0.9,1.1,0.6,1.2,0.9,1.3,0.7,1.0,1.2,0.8,1.1,0.6,1.3,0.9,1.0,0.7,1.2,0.8,1.1,0.6,0.9,1.2,0.7,1.0,0.8,0.6,1.1,0.5,0.9,0.7,0.4,0.8,0.6,1.0,0.3,0.7,0.5,0.9,0.4,0.6,0.2,0.8,0.5,0.3,0.7,0.4,0.6,0.2,0.5,0.8,0.3,0.6,0.4,0.7,0.3,0.6,0.4,0.9,0.5,0.8,0.3,1.1,0.6,0.4,1.0,0.7,1.2,0.5,0.9,0.3,1.1,0.7,0.4,1.0,0.6,1.3,0.5,0.8,0.2,1.1,0.7,1.4,0.5,0.9,0.3,1.2,0.6,1.0,0.4,1.5,0.8,0.3,1.1,0.6,1.3,0.5,0.9,0.2,1.2,0.7,1.0,0.4,1.4,0.6,0.8,0.3,1.1,0.7,1.5,0.5,0.9,0.4,1.2,0.6,1.0,0.3,1.3,0.8,0.5,1.1,0.7,1.4,0.4,0.9,1.2,0.6,1.0,0.3,1.3,0.7,0.5,1.1,0.8,1.6,0.4,0.9,0.6,1.2,0.3,1.0,0.7,1.4,0.5,0.8,1.1,0.4,1.3,0.6,0.9,0.2,1.2,0.7,1.0,0.5,1.5,0.6,0.9,0.4,1.1,0.8,1.3,0.5,0.7,1.0,0.4,1.2,0.6,0.9,0.3,1.1,0.7,1.4,0.5,0.8,1.0,0.6];
const d_pink = [0.5,0.1,0.4,-0.1,0.6,0.2,0.3,0.0,0.5,0.1,0.4,-0.1,0.3,0.6,0.0,0.4,0.2,0.5,-0.1,0.3,0.1,0.4,0.2,0.0,0.3,0.6,0.1,0.4,0.2,-0.1,0.5,0.3,0.0,0.4,0.2,0.6,0.1,0.3,-0.1,0.5,0.2,0.4,0.0,0.3,0.6,0.1,0.4,0.2,1.0,0.3,0.5,0.1,0.4,0.8,0.2,0.5,1.0,0.3,0.6,0.2,0.7,0.4,1.1,0.3,0.6,0.9,0.2,0.7,0.5,0.3,0.8,0.4,0.6,0.1,0.9,0.5,0.7,1.1,0.3,0.6,0.4,1.0,0.2,0.8,0.5,1.2,0.4,0.7,0.1,0.9,0.6,1.1,0.3,0.5,1.0,0.2,0.8,0.4,1.2,0.6,0.3,0.9,0.5,1.1,0.2,0.7,0.4,1.0,0.6,0.3,0.8,0.5,1.3,0.4,0.7,0.1,0.9,0.6,1.1,0.3,0.5,1.0,0.2,0.8,0.4,1.2,0.6,0.3,0.9,0.5,1.1,0.2,0.7,0.4,1.0,0.6,0.3,0.8,0.5,1.2,0.4,0.7,0.2,0.9,0.6,1.1,0.3,0.5,1.0,0.4,0.8,0.2,0.7,0.5,1.2,0.6,0.3,0.9,0.4,1.1,0.5,0.7,0.2,0.9,2.3,0.6,0.4,1.0,0.3,0.8,0.5,1.2,0.6,0.2,0.9,0.4,1.1,0.7,0.5,0.8,0.6];
const d_gray = [1.4,1.0,1.3,0.9,1.2,1.1,1.4,0.9,1.2,1.0,1.3,0.8,1.1,1.2,0.9,1.3,1.0,1.2,0.8,1.1,1.3,0.9,1.0,1.2,0.8,1.1,0.9,1.2,0.8,1.0,0.7,1.0,0.6,0.9,0.5,0.8,0.6,0.4,0.7,0.5,0.9,0.3,0.6,0.4,0.7,0.5,0.3,0.6,0.4,0.8,0.5,0.3,0.7,0.4,0.6,0.5,0.8,0.4,0.7,0.5,0.9,0.6,0.4,0.8,0.6,1.0,0.5,0.8,0.7,1.1,0.6,0.9,1.2,0.7,1.4,0.9,1.1,0.6,1.3,1.0,0.7,1.5,0.9,1.2,0.6,1.6,1.0,0.8,1.3,0.5,1.1,1.4,0.8,1.2,0.6,1.5,0.9,1.3,0.7,1.1,1.6,0.8,1.2,0.5,1.4,1.0,0.7,1.3,0.9,1.7,0.6,1.1,1.4,0.8,1.2,0.5,1.5,1.0,0.7,1.3,0.9,1.6,0.6,1.1,1.4,0.8,1.7,1.0,0.7,1.3,0.9,1.6,1.2,0.6,1.0,1.4,0.8,1.2,0.5,1.5,0.9,1.1,0.7,1.3,1.6,0.8,1.0,0.6,1.4,1.1,0.7,1.3,0.9,1.8,0.6,1.2,1.0,1.5,0.7,1.1,1.4,0.8,1.2,0.5,1.6,1.0,0.8,1.3,0.9,1.7,0.6,1.1,1.4,0.9,1.2,0.7,1.5,1.0,1.3,0.8,1.1];
const d_olive = [-0.4,-0.8,-0.5,-0.2,-0.7,-0.4,-0.9,-0.5,-0.3,-0.7,-0.6,-1.0,-0.4,-0.6,-0.8,-0.3,-0.7,-0.5,-0.9,-0.4,-0.6,-0.2,-0.8,-0.5,-0.7,-0.3,-0.6,-0.9,-0.4,-0.7,-0.5,-0.8,-0.3,-0.6,-1.0,-0.5,-0.7,-0.2,-0.9,-0.6,-0.4,-0.8,-0.5,-0.7,-0.3,-0.9,-0.6,-0.4,-1.0,-0.7,-0.3,-0.8,-0.5,-0.6,-0.9,-0.4,-0.7,-0.5,-0.8,-0.6,-0.3,-0.9,-0.5,-1.1,-0.6,-0.4,-1.2,-0.7,-0.3,-0.9,-0.5,-1.3,-0.6,-0.2,-1.0,-0.7,-1.4,-0.4,-0.8,-0.3,-1.1,-0.6,-1.5,-0.5,-0.9,-0.2,-1.2,-0.7,-0.4,-1.4,-0.6,-1.0,-0.3,-1.3,-0.8,-0.5,-1.6,-0.7,-0.2,-1.1,-0.6,-1.4,-0.4,-0.9,-1.2,-0.5,-0.8,-1.7,-0.6,-0.3,-1.0,-0.7,-1.5,-0.4,-1.1,-0.6,-1.3,-0.5,-0.8,-1.2,-0.3,-0.9,-1.6,-0.6,-0.4,-1.1,-0.7,-1.4,-0.2,-1.0,-0.5,-1.3,-0.8,-0.4,-1.5,-0.6,-1.0,-0.3,-1.2,-0.7,-1.6,-0.5,-0.9,-0.4,-1.3,-0.6,-1.0,-0.2,-1.4,-0.8,-0.5,-1.1,-0.7,-1.5,-0.3,-0.9,-1.2,-0.6,-0.4,-1.3,-0.7,-1.0,-0.5,-1.4,-0.8,-0.3,-1.1,-0.6,-1.5,-0.4,-0.9,-1.2,-0.5,-0.7,-1.0,-0.6,-1.3,-0.4,-0.8,-1.1,-0.6];
const d_cyan = [-0.2,-0.6,-0.3,-0.5,-0.1,-0.4,-0.7,-0.3,-0.5,-0.2,-0.6,-0.4,-0.1,-0.5,-0.3,-0.7,-0.4,-0.2,-0.6,-0.3,-0.5,-0.1,-0.4,-0.6,-0.2,-0.5,-0.3,-0.7,-0.4,-0.1,-0.5,-0.3,-0.6,-0.2,-0.4,-0.7,-0.3,-0.5,-0.1,-0.4,-0.6,-0.2,-0.5,-0.3,-0.7,-0.4,-0.2,-0.6,-0.3,-0.5,-0.1,-0.4,-0.6,-0.3,-0.2,-0.5,-0.4,-0.6,-0.3,-0.2,-0.4,-0.1,-0.5,-0.2,0.0,-0.4,-0.1,-0.3,0.1,-0.2,-0.4,0.0,-0.3,0.2,-0.1,-0.3,0.1,-0.2,0.3,0.0,-0.2,0.2,-0.1,0.4,0.0,-0.3,0.2,-0.1,0.3,-0.2,0.1,0.4,-0.1,0.2,-0.3,0.3,0.0,0.5,-0.1,0.2,-0.2,0.3,0.1,-0.3,0.4,0.0,0.2,-0.2,0.3,0.1,0.5,-0.1,0.2,-0.3,0.4,0.0,0.2,-0.2,0.3,0.1,-0.1,0.4,0.0,0.3,-0.2,0.2,0.1,0.4,0.0,0.2,-0.3,0.3,0.1,-0.1,0.5,0.0,0.2,-0.2,0.3,0.1,0.4,-0.1,0.2,0.0,-0.3,0.3,0.1,0.4,-0.2,0.2,0.0,0.5,-0.1,0.3,0.1,-0.2,0.4,0.0,0.2,-0.3,0.3,0.1,0.4,-0.1,0.2,0.0,0.3,-0.2,0.4,0.1,0.2,-0.1,0.3,0.0,0.5,0.1,-0.2,0.3,0.0,0.2,0.1];

// ---------- (e) Latent CTFP (every 0.5 time units) ----------
const e_blue1 = [-1.0,-0.92,-1.0,-1.08,-1.1,-1.02,-1.0,-0.92,-0.9,-1.02,-1.1,-1.22,-1.3,-1.38,-1.4,-1.32,-1.3,-1.22,-1.2,-1.12,-1.1,-1.02,-1.1,-1.18,-1.2,-1.12,-1.1,-1.18,-1.15,-1.08,-1.1,-1.22,-1.3,-1.38,-1.4,-1.52,-1.6,-1.72,-1.8,-1.98,-2.1,-2.18,-2.2,-2.08,-2.0,-2.18,-2.3,-2.22,-2.2,-2.38,-2.45,-2.22,-2.1,-1.98,-2.0,-2.12,-2.2,-2.08,-2.1,-2.02,-2.0];
const e_orange1 = [1.1,1.18,1.1,0.92,0.8,0.78,0.7,0.58,0.5,0.48,0.4,0.32,0.3,0.38,0.4,0.32,0.3,0.22,0.2,0.12,0.1,0.22,0.3,0.32,0.3,0.22,0.2,0.08,0.0,-0.12,-0.2,-0.28,-0.3,-0.42,-0.5,-0.72,-0.9,-1.12,-1.3,-1.42,-1.5,-1.48,-1.4,-1.28,-1.2,-1.18,-1.1,-1.02,-1.0,-1.08,-1.1,-1.02,-1.0,-0.88,-0.8,-1.02,-1.2,-1.28,-1.3,-1.18,-1.1];
const e_green1 = [-0.4,-0.48,-0.5,-0.38,-0.3,-0.12,0.0,0.12,0.2,0.28,0.3,0.42,0.5,0.68,0.8,0.98,1.1,1.22,1.3,1.42,1.6,2.05,1.7,1.5,1.3,1.12,1.0,0.88,0.8,0.68,0.6,0.52,0.5,0.62,0.7,0.58,0.5,0.38,0.3,0.18,0.1,0.02,0.0,-0.12,-0.2,-0.12,-0.1,-0.18,-0.2,-0.12,-0.1,-0.22,-0.3,-0.42,-0.5,-0.78,-1.0,-1.18,-1.3,-1.42,-1.5];
const e_red1 = [-1.3,-1.22,-1.2,-1.28,-1.3,-1.38,-1.35,-1.28,-1.3,-1.38,-1.4,-1.48,-1.5,-1.62,-1.7,-1.78,-1.8,-1.88,-1.9,-2.02,-2.1,-2.22,-2.3,-2.18,-2.1,-2.02,-2.0,-2.12,-2.2,-2.45,-2.6,-2.5,-2.5,-2.65,-2.8,-3.85,-3.5,-3.3,-3.2,-3.15,-3.1,-2.95,-2.8,-2.55,-2.3,-2.12,-2.0,-2.18,-2.3,-2.38,-2.4,-2.62,-2.8,-3.2,-3.5,-3.72,-3.8,-3.55,-3.4,-3.6,-4.0];
const e_purple1 = [0.5,0.58,0.55,0.62,0.6,0.68,0.65,0.72,0.7,0.78,0.8,0.88,0.9,1.08,1.2,1.32,1.4,1.48,1.5,1.58,1.6,1.52,1.4,1.38,1.3,1.28,1.2,1.15,1.1,1.05,1.0,0.92,0.9,0.82,0.8,0.88,0.9,0.82,0.85,0.92,0.9,0.82,0.8,0.88,0.9,0.82,0.8,0.92,1.0,0.95,0.9,0.82,0.8,0.78,0.8,0.88,0.9,0.82,0.8,0.92,1.0];
const e_brown1 = [0.6,0.58,0.5,0.42,0.3,0.18,0.1,0.18,0.2,0.32,0.4,0.62,0.8,1.08,1.3,1.72,2.0,2.08,2.1,2.32,2.5,2.62,2.8,2.92,3.0,3.4,3.0,3.12,3.2,3.25,3.3,3.18,3.1,2.92,2.8,2.72,2.6,2.52,2.5,2.32,2.3,2.45,2.5,2.22,2.1,1.92,1.8,1.55,1.4,1.72,2.0,1.8,1.7,1.52,1.4,1.22,1.1,1.02,1.0,1.18,1.3];
const e_pink1 = [-1.0,-1.18,-1.3,-1.22,-1.2,-1.08,-1.0,-0.92,-0.8,-0.78,-0.7,-0.62,-0.6,-0.52,-0.5,-0.42,-0.4,-0.32,-0.3,-0.22,-0.2,-0.28,-0.3,-0.38,-0.4,-0.48,-0.5,-0.58,-0.6,-0.68,-0.7,-0.78,-0.8,-0.88,-0.9,-0.78,-0.7,-0.62,-0.5,-0.38,-0.3,-0.22,-0.1,0.02,0.1,0.22,0.3,0.38,0.4,0.48,0.5,0.58,0.6,0.68,0.7,0.62,0.6,0.65,0.65,0.72,0.7];
const e_gray1 = [0.7,0.82,0.9,1.02,1.1,1.22,1.0,0.92,0.9,0.82,0.8,0.88,0.9,0.98,1.0,0.92,0.9,0.82,0.8,0.88,0.9,0.82,0.8,0.72,0.7,0.78,0.8,0.88,0.9,0.98,1.0,0.88,0.8,0.68,0.6,0.52,0.4,0.22,0.0,-0.3,-0.5,-0.32,-0.2,-0.32,-0.4,-0.52,-0.6,-0.72,-0.8,-0.92,-1.0,-0.72,-0.5,-0.32,-0.2,-0.08,0.0,-0.08,-0.1,-0.02,0.0];
const e_olive1 = [-1.6,-1.42,-1.3,-1.22,-1.2,-1.18,-1.2,-1.08,-1.0,-1.12,-1.2,-1.28,-1.3,-1.32,-1.3,-1.38,-1.4,-1.52,-1.6,-1.72,-1.8,-1.88,-1.9,-1.85,-1.9,-1.82,-1.8,-1.88,-1.85,-1.75,-1.7,-1.58,-1.5,-1.42,-1.4,-1.48,-1.5,-1.58,-1.6,-1.72,-1.8,-1.88,-1.9,-1.98,-2.0,-2.08,-2.1,-2.25,-2.1,-1.98,-1.9,-1.82,-1.8,-1.68,-1.6,-1.68,-1.7,-1.62,-1.6,-1.52,-1.5];
const e_cyan1 = [0.3,0.28,0.2,0.12,0.1,0.08,0.05,-0.02,0.0,-0.08,-0.05,-0.02,-0.1,-0.18,-0.2,-0.28,-0.3,-0.32,-0.35,-0.42,-0.4,-0.48,-0.45,-0.52,-0.5,-0.58,-0.55,-0.62,-0.6,-0.52,-0.5,-0.42,-0.4,-0.38,-0.35,-0.32,-0.3,-0.28,-0.25,-0.18,-0.2,-0.08,0.0,0.12,0.2,0.28,0.3,0.38,0.4,0.48,0.5,0.42,0.4,0.38,0.35,0.32,0.3,0.12,0.0,-0.12,-0.2];
const e_blue2 = [-0.6,-0.62,-0.55,-0.52,-0.5,-0.48,-0.45,-0.42,-0.4,-0.38,-0.35,-0.32,-0.3,-0.28,-0.25,-0.22,-0.2,-0.28,-0.35,-0.42,-0.5,-0.52,-0.55,-0.58,-0.6,-0.68,-0.7,-0.78,-0.8,-0.72,-0.7,-0.62,-0.6,-0.52,-0.5,-0.42,-0.4,-0.48,-0.45,-0.52,-0.5,-0.42,-0.4,-0.32,-0.3,-0.18,-0.1,-0.18,-0.2,-0.28,-0.3,-0.38,-0.4,-0.62,-0.8,-1.02,-1.2,-1.42,-1.6,-1.72,-1.8];
const e_orange2 = [-0.2,-0.18,-0.1,-0.02,0.0,0.08,0.15,0.22,0.3,0.32,0.35,0.42,0.4,0.32,0.3,0.22,0.2,0.12,0.1,0.18,0.25,0.32,0.4,0.38,0.3,0.22,0.2,0.28,0.3,0.22,0.15,0.08,0.0,-0.08,-0.15,-0.22,-0.3,-0.38,-0.4,-0.48,-0.5,-0.68,-0.8,-0.92,-1.0,-1.08,-1.1,-1.18,-1.2,-1.12,-1.05,-0.95,-0.9,-1.02,-1.1,-1.22,-1.3,-1.22,-1.15,-1.08,-1.0];
const e_green2 = [-0.5,-0.42,-0.4,-0.38,-0.3,-0.18,-0.1,0.02,0.1,0.18,0.2,0.28,0.3,0.38,0.4,0.48,0.5,0.58,0.6,0.68,0.7,0.78,0.8,0.88,0.9,0.82,0.85,0.78,0.8,0.72,0.7,0.62,0.6,0.58,0.55,0.52,0.5,0.42,0.35,0.28,0.2,0.12,0.1,0.02,0.0,-0.08,-0.1,-0.18,-0.2,-0.28,-0.3,-0.38,-0.4,-0.32,-0.3,-0.22,-0.2,-0.12,-0.05,0.02,0.1];
const e_red2 = [-0.3,-0.28,-0.35,-0.38,-0.4,-0.42,-0.45,-0.48,-0.5,-0.58,-0.6,-0.68,-0.7,-0.78,-0.8,-0.88,-0.9,-0.88,-0.85,-0.82,-0.8,-0.78,-0.75,-0.72,-0.7,-0.68,-0.65,-0.62,-0.6,-0.58,-0.55,-0.52,-0.5,-0.48,-0.45,-0.42,-0.4,-0.42,-0.45,-0.48,-0.5,-0.52,-0.55,-0.58,-0.6,-0.72,-0.8,-0.88,-0.9,-0.82,-0.8,-0.68,-0.6,-0.78,-0.9,-1.08,-1.2,-1.28,-1.3,-1.22,-1.2];
const e_purple2 = [-0.1,-0.08,0.0,0.08,0.1,0.02,0.05,0.02,0.0,0.08,0.1,0.12,0.2,0.28,0.25,0.22,0.3,0.28,0.2,0.12,0.1,0.02,0.05,0.02,0.0,-0.08,-0.1,-0.12,-0.2,-0.22,-0.15,-0.12,-0.1,-0.18,-0.2,-0.28,-0.3,-0.32,-0.25,-0.22,-0.2,-0.18,-0.1,-0.02,0.0,-0.08,-0.1,-0.12,-0.2,-0.22,-0.25,-0.28,-0.3,-0.42,-0.5,-0.58,-0.6,-0.62,-0.65,-0.68,-0.7];
const e_brown2 = [0.8,0.78,0.7,0.68,0.6,0.58,0.55,0.52,0.5,0.48,0.45,0.42,0.4,0.38,0.35,0.32,0.3,0.38,0.4,0.48,0.5,0.58,0.6,0.68,0.7,0.68,0.65,0.62,0.6,0.52,0.45,0.38,0.3,0.28,0.25,0.22,0.2,0.28,0.3,0.38,0.4,0.42,0.45,0.48,0.5,0.42,0.4,0.32,0.3,0.48,0.6,0.48,0.4,0.38,0.35,0.32,0.3,0.28,0.25,0.22,0.2];
const e_pink2 = [0.2,0.18,0.1,0.02,0.0,-0.08,-0.1,-0.18,-0.2,-0.22,-0.25,-0.28,-0.3,-0.28,-0.25,-0.22,-0.2,-0.18,-0.15,-0.12,-0.1,-0.12,-0.2,-0.28,-0.3,-0.38,-0.4,-0.48,-0.5,-0.58,-0.6,-0.68,-0.7,-0.78,-0.8,-0.72,-0.6,-0.52,-0.45,-0.38,-0.3,-0.28,-0.25,-0.22,-0.2,-0.12,-0.1,-0.02,0.0,0.02,0.05,0.08,0.1,0.18,0.2,0.28,0.3,0.32,0.3,0.28,0.3];
const e_gray2 = [0.3,0.32,0.35,0.38,0.4,0.48,0.5,0.58,0.6,0.68,0.7,0.78,0.8,0.82,0.85,0.88,0.9,0.92,0.95,0.98,1.0,0.98,0.95,0.92,0.9,0.88,0.85,0.82,0.8,0.72,0.65,0.58,0.5,0.42,0.4,0.32,0.3,0.05,-0.2,-0.9,-0.8,-0.62,-0.5,-0.38,-0.3,-0.48,-0.6,-0.82,-1.0,-1.22,-1.4,-1.22,-1.1,-0.82,-0.6,-0.72,-0.8,-1.08,-1.3,-1.32,-1.4];
const e_olive2 = [0.1,0.08,0.05,0.02,0.0,-0.08,-0.1,-0.18,-0.2,-0.12,-0.1,-0.02,0.0,0.08,0.1,0.18,0.2,0.28,0.35,0.42,0.5,0.42,0.4,0.32,0.3,0.22,0.2,0.08,0.0,0.12,0.2,0.42,0.6,0.72,0.8,0.62,0.5,0.38,0.3,0.12,0.0,-0.02,-0.05,-0.08,-0.1,-0.18,-0.2,-0.28,-0.3,-0.42,-0.5,-0.68,-0.8,-0.88,-0.9,-0.98,-1.0,-1.18,-1.3,-1.22,-1.2];
const e_cyan2 = [0.0,-0.02,-0.05,-0.08,-0.1,-0.12,-0.15,-0.18,-0.2,-0.22,-0.25,-0.28,-0.3,-0.32,-0.35,-0.38,-0.4,-0.32,-0.3,-0.22,-0.2,-0.22,-0.25,-0.28,-0.3,-0.38,-0.4,-0.48,-0.5,-0.52,-0.55,-0.58,-0.6,-0.58,-0.55,-0.52,-0.5,-0.42,-0.4,-0.32,-0.3,-0.22,-0.2,-0.12,-0.1,-0.18,-0.2,-0.28,-0.3,-0.52,-0.7,-0.88,-1.0,-1.12,-1.2,-1.28,-1.3,-1.12,-1.0,-0.92,-0.9];

// ---------- (f) VRNN (0.2), lower (every 0.5 time units) ----------
const f_blue = [-1.0,-0.95,-0.55,-0.55,-0.2,-0.3,-0.35,-0.45,-0.6,-0.75,-0.82,-0.9,-1.0,-1.05,-0.95,-1.02,-1.15,-1.12,-1.05,-1.02,-1.0,-0.95,-0.92,-0.9,-0.88,-0.85,-0.85,-0.6,-0.5,-0.48,-0.4,-0.35,-0.42,-0.5,-0.45,-0.3,-0.35,-0.32,-0.3,-0.42,-0.5,-0.55,-0.4,-0.2,-0.25,-0.3,-0.22,-0.15,-0.1,-0.05,0.1,0.15,0.0,0.15,0.02,0.0,0.05,0.12,0.05,0.18,0.18];
const f_orange = [-1.0,-1.02,-1.05,-1.0,-1.08,-1.1,-1.05,-1.05,-1.08,-1.1,-1.1,-1.12,-1.1,-1.15,-1.12,-1.1,-1.05,-1.0,-1.0,-1.15,-1.2,-1.15,-1.1,-1.05,-1.0,-0.98,-0.95,-0.95,-0.88,-0.85,-0.95,-1.05,-1.0,-1.02,-0.95,-0.93,-1.05,-1.15,-1.25,-1.3,-1.3,-1.32,-1.35,-1.38,-1.4,-1.42,-1.45,-1.5,-1.48,-1.52,-1.55,-1.6,-1.65,-1.6,-1.6,-1.5,-1.45,-1.35,-1.38,-1.55,-1.42];
const f_green = [1.38,1.25,1.2,1.12,1.1,1.07,1.05,1.03,1.02,0.97,0.93,0.87,0.85,0.8,0.75,0.7,0.65,0.6,0.52,0.45,0.38,0.3,0.29,0.28,0.12,0.02,-0.05,-0.15,-0.3,-0.4,-0.45,-0.5,-0.45,-0.35,-0.28,-0.22,-0.2,-0.25,-0.3,-0.45,-0.55,-0.62,-0.7,-0.68,-0.65,-0.7,-0.75,-0.76,-0.68,-0.6,-0.62,-0.6,-0.55,-0.52,-0.5,-0.53,-0.55,-0.52,-0.5,-0.55,-0.58];
const f_red = [1.12,1.2,1.28,1.27,1.22,1.2,1.24,1.27,1.22,1.2,1.25,1.2,1.15,1.1,1.08,1.05,1.05,1.0,0.95,0.88,0.8,0.75,0.6,0.45,0.38,0.36,0.35,0.38,0.36,0.32,0.3,0.36,0.4,0.45,0.55,0.4,0.2,0.12,0.05,-0.05,-0.1,-0.12,-0.15,-0.14,-0.12,-0.18,-0.2,-0.22,-0.25,-0.28,-0.3,-0.33,-0.38,-0.36,-0.35,-0.38,-0.4,-0.42,-0.45,-0.48,-0.47];
const f_purple = [0.62,0.65,0.72,0.77,0.72,0.68,0.6,0.52,0.45,0.37,0.3,0.25,0.2,0.12,0.05,0.04,0.05,-0.02,0.05,0.1,0.15,0.2,0.15,0.08,0.0,-0.05,-0.05,-0.04,-0.02,0.0,0.0,0.02,0.04,-0.05,-0.1,-0.15,-0.2,-0.3,-0.45,-0.55,-0.62,-0.58,-0.55,-0.58,-0.6,-0.57,-0.55,-0.58,-0.6,-0.6,-0.58,-0.52,-0.5,-0.52,-0.55,-0.55,-0.56,-0.58,-0.6,-0.65,-0.68];
const f_brown = [-1.15,-1.2,-1.12,-1.1,-1.13,-1.15,-1.12,-1.1,-1.12,-1.13,-1.1,-1.1,-1.12,-1.08,-1.05,-1.03,-1.02,-1.0,-1.0,-0.97,-0.95,-0.92,-0.9,-0.88,-0.85,-0.87,-0.85,-0.75,-0.6,-0.5,-0.42,-0.38,-0.35,-0.28,-0.2,-0.15,-0.1,-0.15,-0.2,-0.22,-0.25,-0.2,-0.15,-0.12,-0.15,-0.2,-0.22,-0.15,-0.1,-0.08,-0.05,-0.02,0.0,-0.03,-0.05,-0.08,-0.05,-0.05,-0.05,-0.02,0.0];
const f_pink = [-0.8,-0.95,-0.92,-0.88,-0.9,-0.87,-0.85,-0.8,-0.82,-0.85,-0.88,-0.92,-0.93,-0.95,-0.96,-0.98,-0.95,-0.85,-0.65,-0.5,-0.42,-0.35,-0.3,-0.25,-0.2,-0.15,-0.1,-0.05,-0.03,-0.05,-0.08,-0.1,-0.15,-0.25,-0.35,-0.4,-0.45,-0.5,-0.48,-0.45,-0.45,-0.48,-0.5,-0.45,-0.4,-0.42,-0.45,-0.42,-0.4,-0.43,-0.45,-0.42,-0.4,-0.43,-0.45,-0.48,-0.5,-0.5,-0.5,-0.52,-0.55];
const f_gray = [-1.45,-1.52,-1.42,-1.4,-1.38,-1.35,-1.35,-1.3,-1.28,-1.25,-1.22,-1.18,-1.15,-1.12,-1.1,-1.08,-1.05,-0.85,-0.7,-0.6,-0.5,-0.45,-0.35,-0.3,-0.18,-0.1,-0.05,0.05,0.1,0.12,0.1,0.12,0.1,0.12,0.1,0.05,0.0,-0.05,-0.1,-0.08,-0.05,-0.08,-0.1,0.1,0.05,0.0,0.1,0.05,0.0,0.02,0.05,0.0,-0.05,0.02,-0.1,-0.3,-0.12,-0.02,0.0,-0.05,-0.05];
const f_olive = [-1.0,-1.05,-1.1,-1.2,-1.18,-1.15,-1.1,-1.05,-1.08,-1.1,-1.12,-1.1,-1.08,-1.05,-1.02,-1.0,-0.98,-0.95,-0.9,-0.85,-0.82,-0.8,-0.83,-0.85,-0.9,-0.88,-0.8,-0.75,-0.68,-0.6,-0.52,-0.45,-0.4,-0.35,-0.32,-0.3,-0.28,-0.25,-0.2,-0.15,-0.18,-0.2,-0.15,-0.1,-0.15,-0.2,-0.22,-0.25,-0.1,-0.05,-0.05,-0.05,0.0,0.02,-0.02,-0.05,-0.08,-0.1,-0.05,-0.05,-0.12];
const f_cyan = [0.68,0.67,0.65,0.6,0.72,0.68,0.62,0.55,0.5,0.45,0.42,0.38,0.36,0.33,0.3,0.28,0.25,0.22,0.2,0.15,0.18,0.2,0.18,0.15,0.02,-0.1,-0.22,-0.3,-0.32,-0.35,-0.33,-0.3,-0.3,-0.38,-0.45,-0.48,-0.5,-0.52,-0.55,-0.6,-0.6,-0.62,-0.7,-0.75,-0.68,-0.6,-0.62,-0.65,-0.6,-0.57,-0.55,-0.55,-0.56,-0.53,-0.5,-0.5,-0.5,-0.52,-0.53,-0.55,-0.58];

// ---------- panel definitions (layout only) ----------
const panels = [
  { series: [a_blue,a_orange,a_green,a_red,a_purple,a_brown,a_pink,a_gray,a_olive,a_cyan], tEnd: 30, opacity: 0.5, sw: 1,
    box: [37.3, 307.3, 6, 177.7], yDomain: [-4.23, 3.1], yTicks: intTicks, fmt: "d", ylabelX: 15, cap: [162, 243] },
  { series: [b_blue1,b_orange1,b_green1,b_red1,b_purple1,b_brown1,b_pink1,b_gray1,b_olive1,b_cyan1,
             b_blue2,b_orange2,b_green2,b_red2,b_purple2,b_brown2,b_pink2,b_gray2,b_olive2,b_cyan2], tEnd: 30, opacity: 1, sw: 1.2,
    box: [387.3, 657.3, 5, 177], yDomain: [-4.5, 3.5], yTicks: intTicks, fmt: "d", ylabelX: 365, cap: [520, 243] },
  { series: [c_blue,c_orange,c_green,c_red,c_purple,c_brown,c_pink,c_gray,c_olive,c_cyan], tEnd: 29.5, opacity: 1, sw: 1,
    box: [744.3, 1008.3, 8.3, 177], yDomain: [-2, 1.5], yTicks: vrnnTicks, fmt: ".1f", ylabelX: 715, cap: [860, 243] },
  { series: [d_blue,d_orange,d_green,d_red,d_purple,d_brown,d_pink,d_gray,d_olive,d_cyan], tEnd: 30, opacity: 0.5, sw: 1,
    box: [44.3, 307.3, 261.7, 432.7], yDomain: [-1.89, 2.46], yTicks: sdeTicks, fmt: ".1f", ylabelX: 15, cap: [162, 498] },
  { series: [e_blue1,e_orange1,e_green1,e_red1,e_purple1,e_brown1,e_pink1,e_gray1,e_olive1,e_cyan1,
             e_blue2,e_orange2,e_green2,e_red2,e_purple2,e_brown2,e_pink2,e_gray2,e_olive2,e_cyan2], tEnd: 30, opacity: 1, sw: 1.2,
    box: [387.3, 657.3, 261.7, 433.3], yDomain: [-4.5, 3.5], yTicks: intTicks, fmt: "d", ylabelX: 365, cap: [520, 498] },
  { series: [f_blue,f_orange,f_green,f_red,f_purple,f_brown,f_pink,f_gray,f_olive,f_cyan], tEnd: 30, opacity: 1, sw: 1,
    box: [744.3, 1008.3, 264.7, 433.7], yDomain: [-2, 1.5], yTicks: vrnnTicks, fmt: ".1f", ylabelX: 715, cap: [860, 498] }
];

const svg = d3.select("#chart");
const tickFont = "'DejaVu Sans', sans-serif";
const capFont = "'Liberation Serif', 'Times New Roman', Times, serif";

panels.forEach((p, pi) => {
  const [x0, x1, y0, y1] = p.box;
  const x = d3.scaleLinear().domain([0, 30]).range([x0, x1]);
  const y = d3.scaleLinear().domain(p.yDomain).range([y1, y0]);
  const g = svg.append("g");

  const clipId = "clip" + pi;
  svg.append("clipPath").attr("id", clipId).append("rect")
    .attr("x", x0).attr("y", y0).attr("width", x1 - x0).attr("height", y1 - y0);

  // grid
  const grid = g.append("g").attr("stroke", "#a8a8a8").attr("stroke-width", 1.1);
  timeTicks.forEach(t => grid.append("line").attr("x1", x(t)).attr("x2", x(t)).attr("y1", y0).attr("y2", y1));
  p.yTicks.forEach(v => grid.append("line").attr("x1", x0).attr("x2", x1).attr("y1", y(v)).attr("y2", y(v)));

  // series
  const lines = g.append("g").attr("clip-path", `url(#${clipId})`);
  const line = d3.line().x(d => x(d[0])).y(d => y(d[1]));
  p.series.forEach((vals, si) => {
    const n = vals.length;
    const pts = vals.map((v, i) => [i * p.tEnd / (n - 1), v]);
    lines.append("path").attr("d", line(pts)).attr("fill", "none")
      .attr("stroke", colors[si % 10]).attr("stroke-width", p.sw)
      .attr("stroke-opacity", p.opacity).attr("stroke-linejoin", "round");
  });

  // axes
  const xa = g.append("g").attr("transform", `translate(0,${y1})`)
    .call(d3.axisBottom(x).tickValues(timeTicks).tickFormat(d3.format("d")).tickSize(3.5).tickPadding(1.5));
  const ya = g.append("g").attr("transform", `translate(${x0},0)`)
    .call(d3.axisLeft(y).tickValues(p.yTicks).tickFormat(d3.format(p.fmt)).tickSize(3.5).tickPadding(2));
  [xa, ya].forEach(a => {
    a.select(".domain").remove();
    a.selectAll("line").attr("stroke", "#000").attr("stroke-width", 0.9);
    a.selectAll("text").attr("font-family", tickFont).attr("font-size", 6.8).attr("fill", "#222");
  });

  // spines
  g.append("rect").attr("x", x0).attr("y", y0).attr("width", x1 - x0).attr("height", y1 - y0)
    .attr("fill", "none").attr("stroke", "#000").attr("stroke-width", 1);

  // axis labels
  g.append("text").attr("x", (x0 + x1) / 2).attr("y", y1 + 21)
    .attr("text-anchor", "middle").attr("font-family", tickFont).attr("font-size", 7.3).attr("fill", "#222").text("Time");
  g.append("text").attr("transform", `translate(${p.ylabelX},${(y0 + y1) / 2}) rotate(-90)`)
    .attr("text-anchor", "middle").attr("dy", "0.35em").attr("font-family", tickFont).attr("font-size", 7.3).attr("fill", "#222").text("Value");

  // caption
  svg.append("text").attr("x", p.cap[0]).attr("y", p.cap[1]).attr("text-anchor", "middle")
    .attr("font-family", capFont).attr("font-size", 24).attr("fill", "#000")
    .text(captions[pi]);
});
</script>
</body></html>
